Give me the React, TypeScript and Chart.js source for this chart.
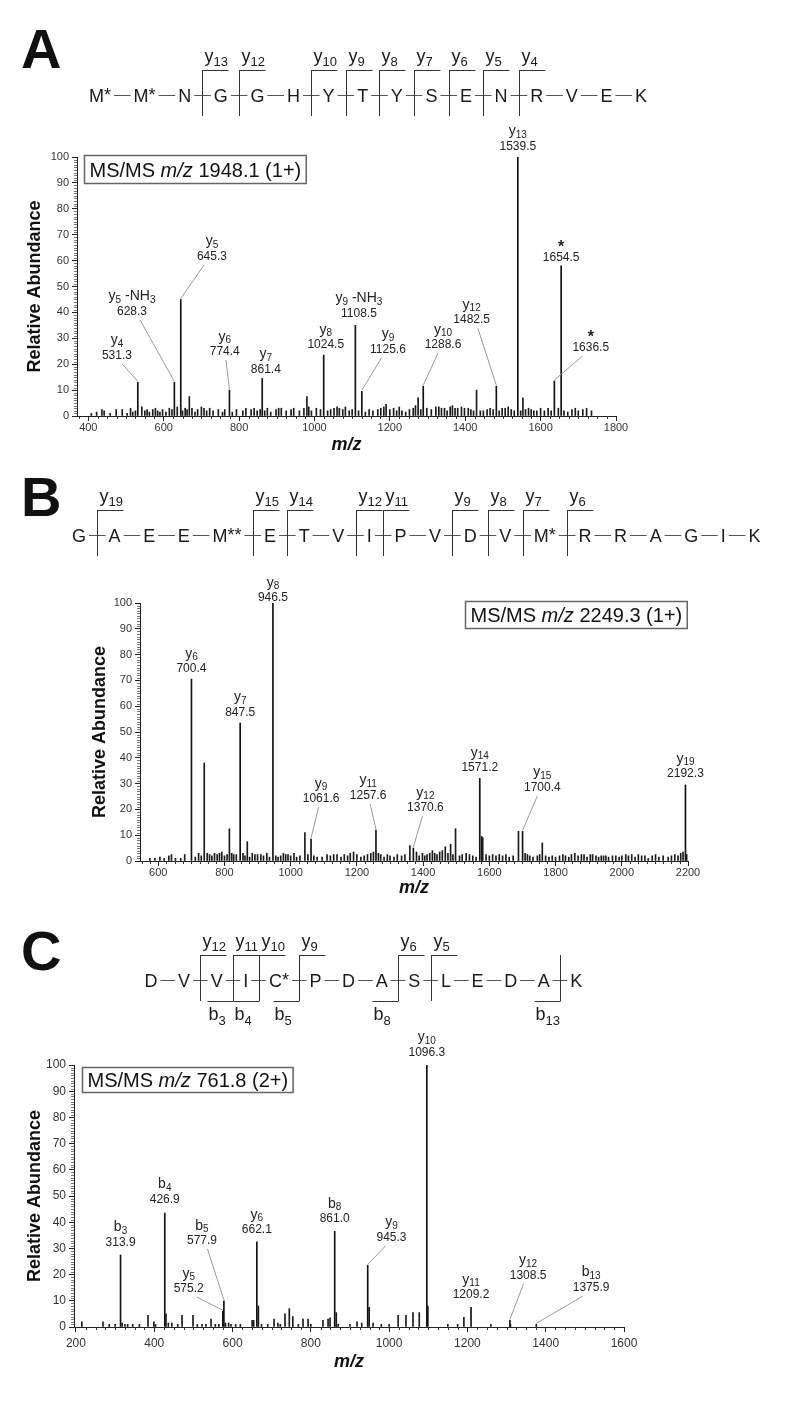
import React, { useEffect, useRef } from 'react';
import { Chart, registerables } from 'chart.js';

Chart.register(...registerables);

const FONT = "'Liberation Sans', Arial, Helvetica, sans-serif";
const PAGE_W = 798;

// ---------------- shared ----------------
const Y_TICKS = [0, 10, 20, 30, 40, 50, 60, 70, 80, 90, 100];

// ---------------- Panel A ----------------
const A_SEQUENCE = ['M*', 'M*', 'N', 'G', 'G', 'H', 'Y', 'T', 'Y', 'S', 'E', 'N', 'R', 'V', 'E', 'K'];
const A_Y_IONS = [13, 12, 10, 9, 8, 7, 6, 5, 4];
const A_B_IONS: number[] = [];
const A_PRECURSOR = '1948.1 (1+)';
const A_X_TICKS = [400, 600, 800, 1000, 1200, 1400, 1600, 1800];
const A_ION_NAMES = ['y|4', 'y|5| -NH|3', 'y|5', 'y|6', 'y|7', 'y|8', 'y|9| -NH|3', 'y|9', 'y|10', 'y|12', 'y|13', '*', '*'];
const A_ION_MZ = [531.3, 628.3, 645.3, 774.4, 861.4, 1024.5, 1108.5, 1125.6, 1288.6, 1482.5, 1539.5, 1636.5, 1654.5];
const A_ION_ABUNDANCE = [13, 13, 45, 10, 14.5, 23.5, 35, 9.5, 11.5, 11.5, 100, 13.5, 58];
// label placement (m/z, abundance of the number's centre, leader line?)
const A_LABEL_PLACE = [
  [476, 23.2, 1], [516, 40.2, 1], [728, 61.4, 1], [762, 24.7, 1], [871, 17.8, 0], [1030, 27.4, 0],
  [1118, 39.4, 0], [1195, 25.5, 1], [1341, 27.4, 1], [1417, 37, 1], [1539.5, 103.9, 0], [1733, 26.3, 1], [1654.5, 61, 0],
];
const A_OTHER_MZ = [
  408, 422, 436, 442, 458, 474, 490, 503, 512, 518,
  525, 542, 550, 556, 562, 571, 578, 584, 590, 597,
  606, 615, 622, 636, 650, 657, 662, 668, 675, 683,
  690, 700, 707, 714, 722, 731, 745, 756, 762, 782,
  793, 810, 818, 832, 840, 848, 856, 868, 875, 884,
  898, 905, 912, 925, 938, 945, 960, 972, 980, 985,
  992, 1005, 1016, 1035, 1043, 1052, 1060, 1066, 1075, 1082,
  1092, 1100, 1117, 1135, 1145, 1155, 1168, 1176, 1184, 1190,
  1200, 1210, 1218, 1225, 1232, 1242, 1252, 1262, 1268, 1275,
  1282, 1298, 1310, 1322, 1330, 1337, 1345, 1352, 1360, 1366,
  1373, 1380, 1390, 1398, 1408, 1415, 1422, 1430, 1440, 1448,
  1458, 1466, 1474, 1490, 1498, 1506, 1514, 1522, 1530, 1547,
  1553, 1560, 1568, 1575, 1582, 1590, 1600, 1610, 1620, 1628,
  1647, 1662, 1672, 1683, 1692, 1700, 1712, 1722, 1735,
];
const A_OTHER_ABUNDANCE = [
  1, 1.5, 2.5, 2, 1, 2.5, 2.5, 1, 3, 1.5,
  2, 3.5, 2, 2.5, 1.5, 2.5, 3, 2, 1.5, 2.5,
  1.5, 3, 2.5, 3.5, 2, 3, 2.5, 7.5, 3, 1.5,
  2.5, 3.5, 3, 2, 3, 2, 2.5, 1.5, 2.5, 1.5,
  2.5, 2, 3, 2.5, 3, 2, 2.5, 2, 3, 1.5,
  2.5, 3, 3, 2, 2.5, 3, 2, 3, 7.5, 3.5,
  2, 3, 2.5, 2, 2.5, 3, 3.5, 3, 2.5, 3.5,
  2, 2.5, 2, 1.5, 2.5, 2, 2.5, 3, 3.5, 4.5,
  2.5, 3, 2, 3.5, 2, 1.5, 2.5, 3, 4, 7,
  2.5, 3, 2.5, 3.5, 3.5, 3, 3, 2, 3.5, 4,
  3, 3, 3.5, 3, 3, 2.5, 2, 10, 2, 2,
  2.5, 3, 2.5, 2, 3, 3, 3.5, 2.5, 2, 2,
  7, 2.5, 3, 2.5, 2, 2, 3, 2, 3, 2,
  3, 2, 1.5, 2.5, 3, 2, 2.5, 3, 2,
];

// ---------------- Panel B ----------------
const B_SEQUENCE = ['G', 'A', 'E', 'E', 'M**', 'E', 'T', 'V', 'I', 'P', 'V', 'D', 'V', 'M*', 'R', 'R', 'A', 'G', 'I', 'K'];
const B_Y_IONS = [19, 15, 14, 12, 11, 9, 8, 7, 6];
const B_B_IONS: number[] = [];
const B_PRECURSOR = '2249.3 (1+)';
const B_X_TICKS = [600, 800, 1000, 1200, 1400, 1600, 1800, 2000, 2200];
const B_ION_NAMES = ['y|6', 'y|7', 'y|8', 'y|9', 'y|11', 'y|12', 'y|14', 'y|15', 'y|19'];
const B_ION_MZ = [700.4, 847.5, 946.5, 1061.6, 1257.6, 1370.6, 1571.2, 1700.4, 2192.3];
const B_ION_ABUNDANCE = [70.5, 53.5, 100, 8.5, 12, 5, 32, 11.5, 29.5];
const B_LABEL_PLACE = [
  [700.4, 74.4, 0], [847.5, 57.4, 0], [946.5, 101.9, 0], [1092, 24, 1], [1234, 25.2, 1],
  [1407, 20.5, 1], [1571.2, 36, 0], [1760, 28.3, 1], [2192.3, 33.7, 0],
];
const B_OTHER_MZ = [
  575, 590, 605, 618, 632, 640, 652, 668, 680, 712,
  722, 730, 739, 748, 755, 762, 770, 778, 785, 792,
  800, 808, 815, 822, 828, 836, 856, 862, 869, 876,
  884, 892, 900, 910, 918, 928, 936, 955, 962, 970,
  978, 985, 992, 1000, 1010, 1018, 1028, 1043, 1052, 1070,
  1080, 1095, 1110, 1120, 1130, 1140, 1152, 1162, 1172, 1180,
  1190, 1200, 1212, 1222, 1232, 1242, 1250, 1265, 1272, 1282,
  1292, 1300, 1312, 1322, 1335, 1345, 1360, 1380, 1388, 1398,
  1405, 1412, 1420, 1428, 1435, 1442, 1450, 1458, 1467, 1475,
  1483, 1490, 1498, 1510, 1518, 1530, 1540, 1550, 1560, 1577,
  1580, 1590, 1600, 1610, 1620, 1630, 1640, 1650, 1660, 1672,
  1688, 1708, 1715, 1722, 1732, 1745, 1752, 1760, 1770, 1780,
  1790, 1800, 1812, 1822, 1830, 1840, 1848, 1858, 1868, 1878,
  1886, 1895, 1905, 1912, 1922, 1930, 1938, 1945, 1952, 1960,
  1972, 1982, 1992, 2000, 2012, 2020, 2030, 2040, 2050, 2060,
  2070, 2080, 2092, 2102, 2112, 2125, 2140, 2150, 2160, 2170,
  2178, 2185, 2196,
];
const B_OTHER_ABUNDANCE = [
  1, 1, 1.5, 1, 2, 2.5, 1, 1, 2.5, 1.5,
  3, 2, 38, 3, 2.5, 2, 3, 2.5, 3, 3.5,
  2, 2.5, 12.5, 3, 2.5, 2.5, 3, 2, 7.5, 1.5,
  3, 2.5, 2.5, 2.5, 2, 3, 1.5, 2, 1.5, 2,
  3, 2.5, 2.5, 2, 3, 1.5, 2, 11, 2.5, 2,
  1.5, 1.5, 2.5, 2, 2.5, 2.5, 1.5, 2.5, 2, 3,
  3.5, 2.5, 1.5, 2, 2.5, 3, 3.5, 3, 2.5, 1.5,
  2.5, 2, 1.5, 2.5, 2, 2.5, 6, 3.5, 2, 3,
  2, 2.5, 3, 4, 3, 2.5, 3.5, 4, 5.5, 3,
  6.5, 2.5, 12.5, 2, 2.5, 3, 2.5, 2, 1.5, 9.5,
  9, 2.5, 2, 2.5, 2, 2.5, 2, 2.5, 1.5, 2,
  11.5, 3, 2.5, 2, 1.5, 2, 2.5, 7, 2, 1.5,
  2, 1.5, 2, 2.5, 2, 1.5, 2.5, 3, 2, 2.5,
  2.5, 1.5, 2.5, 2.5, 2, 1.5, 2, 2, 2, 1.5,
  2, 2, 1.5, 2, 2.5, 2, 2.5, 1.5, 2.5, 2,
  2, 1, 2, 2.5, 1.5, 2, 1.5, 2, 2.5, 2,
  3, 3.5, 2.5,
];

// ---------------- Panel C ----------------
const C_SEQUENCE = ['D', 'V', 'V', 'I', 'C*', 'P', 'D', 'A', 'S', 'L', 'E', 'D', 'A', 'K'];
const C_Y_IONS = [12, 11, 10, 9, 6, 5];
const C_B_IONS = [3, 4, 5, 8, 13];
const C_PRECURSOR = '761.8 (2+)';
const C_X_TICKS = [200, 400, 600, 800, 1000, 1200, 1400, 1600];
const C_ION_NAMES = ['b|3', 'b|4', 'y|5', 'b|5', 'y|6', 'b|8', 'y|9', 'y|10', 'y|11', 'y|12', 'b|13'];
const C_ION_MZ = [313.9, 426.9, 575.2, 577.9, 662.1, 861.0, 945.3, 1096.3, 1209.2, 1308.5, 1375.9];
const C_ION_ABUNDANCE = [27.5, 43.5, 6, 10, 32.5, 36.5, 23.5, 100, 7.5, 2.5, 1];
const C_LABEL_PLACE = [
  [313.9, 32.1, 0], [426.9, 48.5, 0], [488, 14.5, 1], [522, 32.8, 1], [662.1, 37, 0], [861, 41.2, 0],
  [1006, 34, 1], [1096.3, 104.6, 0], [1209.2, 12.2, 0], [1355, 19.5, 1], [1516, 14.9, 1],
];
const C_OTHER_MZ = [
  215, 269, 285, 300, 318, 325, 332, 345, 362, 384,
  399, 403, 430, 436, 445, 460, 471, 499, 510, 522,
  532, 545, 556, 565, 582, 590, 596, 608, 620, 650,
  654, 666, 674, 690, 706, 716, 722, 734, 745, 754,
  768, 780, 793, 800, 831, 844, 849, 865, 870, 900,
  918, 930, 949, 959, 980, 1000, 1023, 1043, 1061, 1077,
  1099, 1150, 1175, 1191, 1260, 1310,
];
const C_OTHER_ABUNDANCE = [
  2, 2, 1, 1, 1.5, 1, 1, 1, 1, 4.5,
  2, 1, 5, 1.5, 1.5, 1, 4.5, 4.5, 1, 1,
  1, 3, 1, 1, 1.5, 1.5, 1, 1, 1, 2.5,
  2.5, 8, 1, 1, 3, 1.5, 1, 5, 7, 4,
  1, 3, 3, 1, 2.5, 3, 3.5, 5.5, 1, 1,
  2, 1.5, 7.5, 1.5, 1, 1, 4.5, 4.5, 5.5, 5.5,
  8, 1, 1, 3.7, 1, 1,
];

// ---------------- layout of the three panels (page pixels) ----------------
type Panel = {
  letter: string; top: number; height: number;
  area: { left: number; top: number; right: number; bottom: number };
  xMin: number; xMax: number; xTicks: number[];
  ionNames: string[]; ionMz: number[]; ionAb: number[]; place: number[][];
  otherMz: number[]; otherAb: number[];
  seq: string[]; yIons: number[]; bIons: number[];
  seqStart: number; seqGap: number; seqCy: number; letterBase: number;
  precursor: string; boxDx: number; boxDy: number; boxH: number;
  tickSize: number; tickPad: number; xTitlePad: number; yTitlePad: number;
};

const PANELS: Panel[] = [
  {
    letter: 'A', top: 0, height: 460,
    area: { left: 77, top: 157, right: 616, bottom: 416 },
    xMin: 370, xMax: 1800, xTicks: A_X_TICKS,
    ionNames: A_ION_NAMES, ionMz: A_ION_MZ, ionAb: A_ION_ABUNDANCE, place: A_LABEL_PLACE,
    otherMz: A_OTHER_MZ, otherAb: A_OTHER_ABUNDANCE,
    seq: A_SEQUENCE, yIons: A_Y_IONS, bIons: A_B_IONS,
    seqStart: 89, seqGap: 22.6, seqCy: 95, letterBase: 68,
    precursor: A_PRECURSOR, boxDx: 7, boxDy: -2, boxH: 28,
    tickSize: 11, tickPad: 0, xTitlePad: 4, yTitlePad: 24,
  },
  {
    letter: 'B', top: 460, height: 440,
    area: { left: 140, top: 603, right: 688, bottom: 861 },
    xMin: 545, xMax: 2200, xTicks: B_X_TICKS,
    ionNames: B_ION_NAMES, ionMz: B_ION_MZ, ionAb: B_ION_ABUNDANCE, place: B_LABEL_PLACE,
    otherMz: B_OTHER_MZ, otherAb: B_OTHER_ABUNDANCE,
    seq: B_SEQUENCE, yIons: B_Y_IONS, bIons: B_B_IONS,
    seqStart: 72, seqGap: 22.6, seqCy: 535, letterBase: 516,
    precursor: B_PRECURSOR, boxDx: 325, boxDy: -2, boxH: 27,
    tickSize: 11, tickPad: 0, xTitlePad: 1, yTitlePad: 89,
  },
  {
    letter: 'C', top: 900, height: 501,
    area: { left: 74, top: 1065, right: 624, bottom: 1327 },
    xMin: 195, xMax: 1600, xTicks: C_X_TICKS,
    ionNames: C_ION_NAMES, ionMz: C_ION_MZ, ionAb: C_ION_ABUNDANCE, place: C_LABEL_PLACE,
    otherMz: C_OTHER_MZ, otherAb: C_OTHER_ABUNDANCE,
    seq: C_SEQUENCE, yIons: C_Y_IONS, bIons: C_B_IONS,
    seqStart: 144.5, seqGap: 20.6, seqCy: 980, letterBase: 970,
    precursor: C_PRECURSOR, boxDx: 8, boxDy: 2, boxH: 25,
    tickSize: 12, tickPad: 4, xTitlePad: 28, yTitlePad: 24,
  },
];

function line(ctx: CanvasRenderingContext2D, x1: number, y1: number, x2: number, y2: number) {
  ctx.beginPath();
  ctx.moveTo(x1, y1);
  ctx.lineTo(x2, y2);
  ctx.stroke();
}

function drawIon(ctx: CanvasRenderingContext2D, spec: string, cx: number, cy: number) {
  ctx.textAlign = 'left';
  ctx.textBaseline = 'alphabetic';
  if (spec === '*') {
    ctx.font = `bold 16px ${FONT}`;
    const w = ctx.measureText('*').width;
    ctx.fillText('*', cx - w / 2, cy + 9);
    return;
  }
  const parts = spec.split('|');
  const fonts = parts.map((_, i) => (i % 2 === 0 ? `14px ${FONT}` : `10px ${FONT}`));
  let total = 0;
  const ws = parts.map((t, i) => {
    ctx.font = fonts[i];
    const m = ctx.measureText(t).width;
    total += m;
    return m;
  });
  let x = cx - total / 2;
  parts.forEach((t, i) => {
    ctx.font = fonts[i];
    ctx.fillText(t, x, cy + (i % 2 ? 6 : 3.5));
    x += ws[i];
  });
}

function drawSequence(ctx: CanvasRenderingContext2D, p: Panel, cy: number) {
  const L = p.seq.length;
  const items = p.seq.map((s) => {
    const letter = s.replace(/\*/g, '');
    const stars = s.slice(letter.length);
    ctx.font = `18px ${FONT}`;
    const lw = ctx.measureText(letter).width;
    ctx.font = `18px ${FONT}`;
    const sw = stars ? ctx.measureText(stars).width : 0;
    return { letter, stars, lw, sw, left: 0, right: 0 };
  });
  let x = p.seqStart;
  items.forEach((it) => {
    it.left = x;
    it.right = x + it.lw + it.sw;
    x = it.right + p.seqGap;
  });

  ctx.strokeStyle = '#555';
  ctx.lineWidth = 1;
  for (let i = 0; i < L - 1; i++) {
    line(ctx, items[i].right + 3, Math.round(cy) + 0.5, items[i + 1].left - 3, Math.round(cy) + 0.5);
  }
  ctx.fillStyle = '#1a1a1a';
  ctx.textAlign = 'left';
  ctx.textBaseline = 'alphabetic';
  items.forEach((it) => {
    ctx.font = `18px ${FONT}`;
    ctx.fillText(it.letter, it.left, cy + 6.5);
    if (it.stars) {
      ctx.font = `18px ${FONT}`;
      ctx.fillText(it.stars, it.left + it.lw, cy + 5.5);
    }
  });

  const top = cy - 25;
  const bot = cy + 21;
  const arm = 26;
  const cut = (k: number) => Math.round((items[k].right + items[k + 1].left) / 2) + 0.5;
  ctx.strokeStyle = '#333';
  const label = (main: string, sub: string, lx: number, base: number, subBase: number) => {
    ctx.font = `18px ${FONT}`;
    ctx.fillText(main, lx, base);
    const w = ctx.measureText(main).width;
    ctx.font = `13px ${FONT}`;
    ctx.fillText(sub, lx + w, subBase);
  };
  p.yIons.forEach((n) => {
    const xc = cut(L - n - 1);
    line(ctx, xc, top, xc, bot);
    line(ctx, xc, top + 0.5, xc + arm, top + 0.5);
    label('y', String(n), xc + 2, top - 8, top - 4);
  });
  p.bIons.forEach((n) => {
    const xc = cut(n - 1);
    line(ctx, xc, top, xc, bot);
    line(ctx, xc - arm, bot + 0.5, xc, bot + 0.5);
    label('b', String(n), xc - arm + 1, bot + 19, bot + 24);
  });
}

function makeOverlay(p: Panel) {
  return {
    id: 'overlay' + p.letter,
    afterDraw(chart: any) {
      const ctx: CanvasRenderingContext2D = chart.ctx;
      const xs = chart.scales.x;
      const ys = chart.scales.y;
      const area = chart.chartArea;
      const off = p.top;
      ctx.save();

      // minor ticks
      ctx.strokeStyle = '#333';
      ctx.lineWidth = 1;
      for (let v = Math.ceil(p.xMin / 25) * 25; v <= p.xMax; v += 25) {
        if (v % 200 === 0) continue;
        const px = Math.round(xs.getPixelForValue(v)) + 0.5;
        line(ctx, px, area.bottom, px, area.bottom + 3);
      }
      ctx.strokeStyle = '#555';
      ctx.lineWidth = 0.8;
      for (let v = 1; v < 100; v += 1) {
        if (v % 10 === 0) continue;
        const py = Math.round(ys.getPixelForValue(v)) + 0.5;
        line(ctx, area.left - 3, py, area.left, py);
      }

      // panel letter
      ctx.fillStyle = '#111';
      ctx.font = `bold 56px ${FONT}`;
      ctx.textAlign = 'left';
      ctx.textBaseline = 'alphabetic';
      ctx.fillText(p.letter, 21, p.letterBase - off);

      // sequence header
      drawSequence(ctx, p, p.seqCy - off);

      // precursor box
      const f = `20px ${FONT}`;
      const fi = `italic 20px ${FONT}`;
      ctx.font = f;
      const w1 = ctx.measureText('MS/MS ').width;
      const w3 = ctx.measureText(' ' + p.precursor).width;
      ctx.font = fi;
      const w2 = ctx.measureText('m/z').width;
      const bw = w1 + w2 + w3 + 10;
      const bl = Math.round(area.left + p.boxDx) + 0.5;
      const bt = Math.round(area.top + p.boxDy) + 0.5;
      ctx.fillStyle = '#fff';
      ctx.fillRect(bl, bt, bw, p.boxH);
      ctx.strokeStyle = '#666';
      ctx.lineWidth = 1.5;
      ctx.strokeRect(bl, bt, bw, p.boxH);
      ctx.fillStyle = '#111';
      const tb = bt + p.boxH / 2 + 7;
      ctx.font = f;
      ctx.fillText('MS/MS ', bl + 5, tb);
      ctx.font = fi;
      ctx.fillText('m/z', bl + 5 + w1, tb);
      ctx.font = f;
      ctx.fillText(' ' + p.precursor, bl + 5 + w1 + w2, tb);

      // peak labels
      p.ionNames.forEach((name, i) => {
        const mz = p.ionMz[i];
        const ab = p.ionAb[i];
        const pl = p.place[i];
        const px = xs.getPixelForValue(mz);
        const peakTop = ys.getPixelForValue(ab);
        const lx = xs.getPixelForValue(pl[0]);
        const ly = ys.getPixelForValue(pl[1]);
        ctx.fillStyle = '#222';
        ctx.font = `12px ${FONT}`;
        ctx.textAlign = 'center';
        ctx.textBaseline = 'middle';
        ctx.fillText(mz.toFixed(1), lx, ly);
        drawIon(ctx, name, lx, ly - 15);
        if (pl[2]) {
          const dx = Math.max(-8, Math.min(8, (px - lx) * 0.25));
          ctx.strokeStyle = '#9a9a9a';
          ctx.lineWidth = 1;
          line(ctx, lx + dx, ly + 8, px, peakTop - 1);
        }
      });
      ctx.restore();
    },
  };
}

function buildConfig(p: Panel): any {
  const tickFont = { family: FONT, size: p.tickSize };
  const grid = {
    display: true, drawOnChartArea: false, drawTicks: true, tickLength: 5,
    tickColor: '#222', tickWidth: 1, offset: false,
  };
  const border = { display: true, color: '#222', width: 1 };
  return {
    type: 'bar',
    data: {
      datasets: [
        {
          label: 'other peaks',
          data: p.otherMz.map((x, i) => ({ x, y: p.otherAb[i] })),
          backgroundColor: '#1a1a1a', borderWidth: 0, barThickness: 1, grouped: false,
        },
        {
          label: 'assigned ions',
          data: p.ionMz.map((x, i) => ({ x, y: p.ionAb[i] })),
          backgroundColor: '#111', borderWidth: 0, barThickness: 1, grouped: false,
        },
      ],
    },
    options: {
      animation: false,
      responsive: false,
      devicePixelRatio: 1,
      events: [],
      layout: {
        padding: { top: p.area.top - p.top, left: 0, right: PAGE_W - p.area.right, bottom: 0 },
      },
      plugins: { legend: { display: false }, tooltip: { enabled: false }, title: { display: false } },
      scales: {
        x: {
          type: 'linear', position: 'bottom', min: p.xMin, max: p.xMax, offset: false,
          afterBuildTicks: (s: any) => { s.ticks = p.xTicks.map((v) => ({ value: v })); },
          afterFit: (s: any) => { s.height = p.top + p.height - p.area.bottom; },
          grid, border,
          ticks: { font: tickFont, color: '#333', padding: p.tickPad, maxRotation: 0, autoSkip: false, callback: (v: any) => String(v) },
          title: {
            display: true, text: 'm/z', color: '#111',
            font: { family: FONT, size: 18, weight: 'bold', style: 'italic' },
            padding: { top: 0, bottom: p.xTitlePad },
          },
        },
        y: {
          type: 'linear', position: 'left', min: 0, max: 100,
          afterBuildTicks: (s: any) => { s.ticks = Y_TICKS.map((v) => ({ value: v })); },
          afterFit: (s: any) => { s.width = p.area.left; },
          grid, border,
          ticks: { font: tickFont, color: '#333', padding: 3, autoSkip: false, callback: (v: any) => String(v) },
          title: {
            display: true, text: 'Relative Abundance', color: '#111',
            font: { family: FONT, size: 18, weight: 'bold' },
            padding: { top: p.yTitlePad, bottom: 0 },
          },
        },
      },
    },
    plugins: [makeOverlay(p)],
  };
}

function PanelChart({ p }: { p: Panel }) {
  const ref = useRef<HTMLCanvasElement>(null);
  useEffect(() => {
    if (!ref.current) return;
    const chart = new Chart(ref.current, buildConfig(p));
    return () => chart.destroy();
  }, [p]);
  return (
    <canvas
      ref={ref}
      width={PAGE_W}
      height={p.height}
      style={{ position: 'absolute', left: 0, top: p.top, width: PAGE_W, height: p.height, display: 'block' }}
    />
  );
}

export default function App() {
  useEffect(() => {
    document.body.style.margin = '0';
    document.body.style.overflow = 'hidden';
  }, []);
  return (
    <div style={{ position: 'absolute', left: 0, top: 0, width: PAGE_W, height: 1401, background: '#fff', overflow: 'hidden' }}>
      {PANELS.map((p) => (
        <PanelChart key={p.letter} p={p} />
      ))}
    </div>
  );
}
